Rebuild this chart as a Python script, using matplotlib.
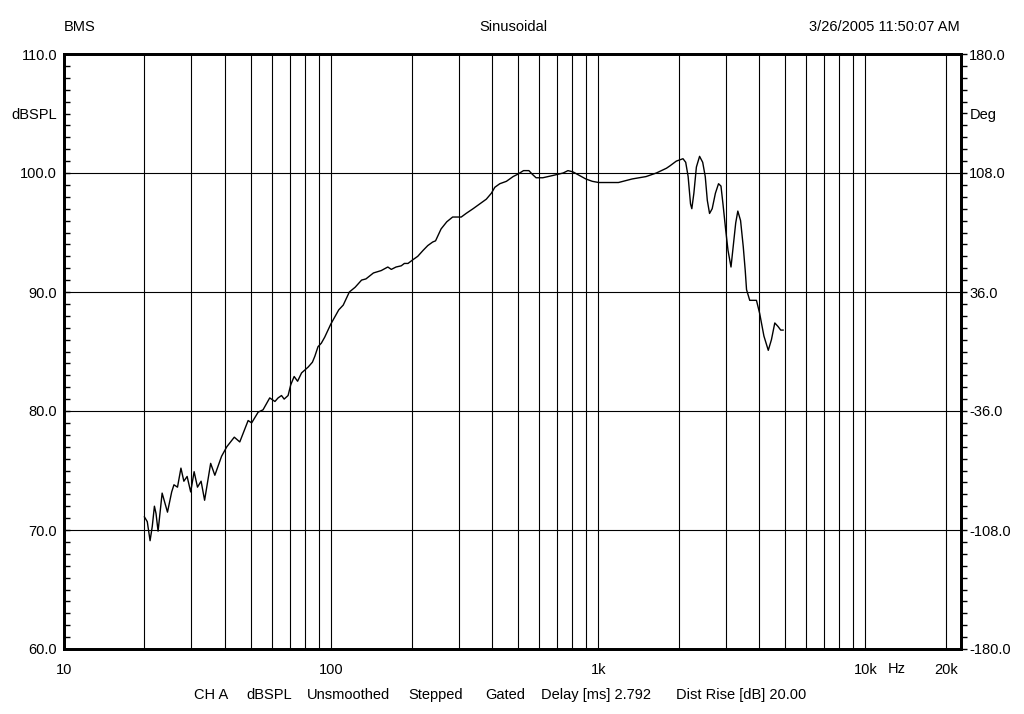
import matplotlib
matplotlib.use("Agg")
import matplotlib.pyplot as plt
from matplotlib.ticker import FixedLocator, NullLocator, NullFormatter

freq_hz = [20.0, 20.5, 21.0, 21.4, 21.8, 22.1, 22.5, 23.3, 24.4, 25.3,
           25.8, 26.6, 27.4, 28.1, 28.9, 29.8, 30.7, 31.6, 32.6, 33.6,
           35.4, 36.7, 38.9, 40.7, 43.4, 45.5, 48.9, 50.4, 53.3, 55.6,
           58.9, 61.6, 63.3, 65.2, 66.7, 69.0, 70.6, 72.7, 74.9, 77.5,
           80.2, 82.1, 85.1, 86.9, 89.3, 91.9, 94.6, 97.4, 99.7, 103.2,
           106.8, 111, 117, 123, 130, 135, 144, 154, 163, 168,
           175, 183, 188, 194, 202, 211, 221, 230, 240, 246,
           258, 271, 285, 298, 307, 320, 340, 360, 381, 398,
           410, 428, 453, 480, 500, 525, 550, 566, 585, 620,
           650, 679, 708, 739, 770, 803, 849, 898, 950, 1005,
           1190, 1340, 1510, 1650, 1800, 1855, 1960, 2076, 2125, 2170,
           2215, 2240, 2280, 2330, 2395, 2460, 2515, 2560, 2610, 2670,
           2745, 2820, 2880, 2930, 3000, 3060, 3140, 3200, 3270, 3330,
           3410, 3490, 3550, 3590, 3690, 3800, 3910, 4020, 4170, 4330,
           4450, 4580, 4710, 4820, 4920]

spl_db = [71.1, 70.7, 69.1, 70.3, 72.0, 71.4, 69.9, 73.1, 71.5, 73.2,
          73.8, 73.6, 75.2, 74.1, 74.5, 73.2, 74.9, 73.6, 74.1, 72.5,
          75.6, 74.6, 76.2, 77.0, 77.8, 77.4, 79.2, 79.0, 79.9, 80.1,
          81.1, 80.8, 81.1, 81.3, 81.0, 81.3, 82.2, 82.9, 82.5, 83.2,
          83.5, 83.7, 84.1, 84.6, 85.4, 85.7, 86.2, 86.8, 87.3, 87.9,
          88.5, 88.9, 90.0, 90.4, 91.0, 91.1, 91.6, 91.8, 92.1, 91.9,
          92.1, 92.2, 92.4, 92.4, 92.7, 93.0, 93.5, 93.9, 94.2, 94.3,
          95.3, 95.9, 96.3, 96.3, 96.3, 96.6, 97.0, 97.4, 97.8, 98.3,
          98.8, 99.1, 99.3, 99.7, 99.9, 100.2, 100.2, 99.9, 99.6, 99.6,
          99.7, 99.8, 99.9, 100.0, 100.2, 100.1, 99.8, 99.5, 99.3, 99.2,
          99.2, 99.5, 99.7, 100.0, 100.4, 100.6, 101.0, 101.2, 100.9, 99.7,
          97.4, 97.0, 98.3, 100.5, 101.4, 100.9, 99.7, 97.7, 96.6, 97.0,
          98.3, 99.1, 98.9, 97.4, 95.2, 93.5, 92.1, 93.8, 95.8, 96.8,
          96.0, 93.8, 91.8, 90.2, 89.3, 89.3, 89.3, 88.2, 86.3, 85.1,
          86.0, 87.4, 87.1, 86.8, 86.8]

x_tick_vals = [10, 100, 1000, 10000, 20000]
x_tick_labels = ["10", "100", "1k", "10k", "20k"]
x_grid_vals = [20, 30, 40, 50, 60, 70, 80, 90, 100,
               200, 300, 400, 500, 600, 700, 800, 900, 1000,
               2000, 3000, 4000, 5000, 6000, 7000, 8000, 9000, 10000, 20000]
left_tick_vals = [60, 70, 80, 90, 100, 105, 110]
left_tick_labels = ["60.0", "70.0", "80.0", "90.0", "100.0", "dBSPL", "110.0"]
y_grid_vals = [70, 80, 90, 100]
right_tick_vals = [-180, -108, -36, 36, 108, 144, 180]
right_tick_labels = ["-180.0", "-108.0", "-36.0", "36.0", "108.0", "Deg", "180.0"]
footer_words = ["CH A", "dBSPL", "Unsmoothed", "Stepped", "Gated",
                "Delay [ms] 2.792", "Dist Rise [dB] 20.00"]
footer_left_px = [194, 246, 307, 408, 485, 541, 676]

FS = 10.5
plt.rcParams['font.family'] = ['Liberation Sans', 'DejaVu Sans']
plt.rcParams['font.size'] = FS

fig = plt.figure(figsize=(10.24, 7.14), dpi=100)
fig.patch.set_facecolor('white')
ax = fig.add_axes([64/1024, 65/714, (961-64)/1024, (649-54)/714])

ax.set_xscale('log')
ax.set_xlim(10, 22800)
ax.set_ylim(60, 110)

for xv in x_grid_vals:
    ax.axvline(xv, color='black', lw=0.8, zorder=1)
for yv in y_grid_vals:
    ax.axhline(yv, color='black', lw=0.8, zorder=1)

ax.plot(freq_hz, spl_db, color='black', lw=1.0, zorder=3)

for s in ax.spines.values():
    s.set_linewidth(2.0)
    s.set_zorder(4)

ax.xaxis.set_major_locator(FixedLocator(x_tick_vals))
ax.set_xticklabels(x_tick_labels)
ax.xaxis.set_minor_locator(NullLocator())
ax.xaxis.set_minor_formatter(NullFormatter())
ax.tick_params(axis='x', which='both', length=0, pad=10)

ax.yaxis.set_major_locator(FixedLocator(left_tick_vals))
ax.set_yticklabels(left_tick_labels)
ax.yaxis.set_minor_locator(FixedLocator(list(range(60, 111))))
ax.tick_params(axis='y', which='both', direction='in', length=4, width=1, pad=5)

ax2 = ax.twinx()
ax2.set_ylim(-180, 180)
ax2.yaxis.set_major_locator(FixedLocator(right_tick_vals))
ax2.set_yticklabels(right_tick_labels)
ax2.yaxis.set_minor_locator(FixedLocator([-180 + 7.2 * i for i in range(51)]))
ax2.tick_params(axis='y', which='both', direction='out', length=4, width=1, pad=2)
for s in ax2.spines.values():
    s.set_linewidth(2.0)

fig.text(897/1024, 1 - 669/714, "Hz", ha='center', va='center', fontsize=FS)
fig.text(64/1024, 1 - 27/714, "BMS", ha='left', va='center', fontsize=FS)
fig.text(513/1024, 1 - 27/714, "Sinusoidal", ha='center', va='center', fontsize=FS)
fig.text(960/1024, 1 - 27/714, "3/26/2005 11:50:07 AM", ha='right', va='center', fontsize=FS)
for word, xl in zip(footer_words, footer_left_px):
    fig.text(xl/1024, 1 - 695/714, word, ha='left', va='center', fontsize=FS)

fig.savefig("out.png", dpi=100, facecolor='white')
